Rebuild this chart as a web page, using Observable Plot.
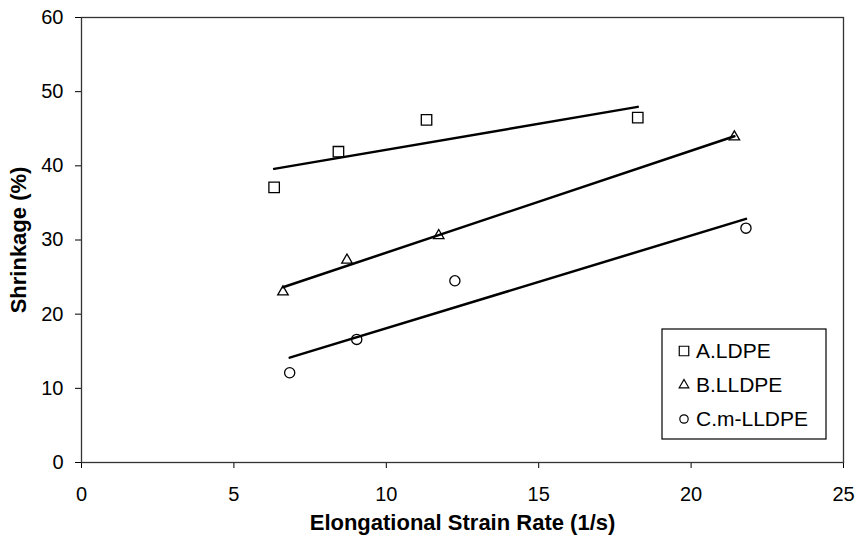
<!DOCTYPE html>
<html>
<head>
<meta charset="utf-8">
<script src="https://cdn.jsdelivr.net/npm/d3@7"></script>
<script src="https://cdn.jsdelivr.net/npm/@observablehq/plot@0.6"></script>
<style>
  body { margin: 0; background: #fff; }
  #chart { position: relative; width: 860px; height: 542px; font-family: "Liberation Sans", Arial, sans-serif; }
  #chart g[aria-label="x-axis label"] text,
  #chart g[aria-label="y-axis label"] text { font-weight: bold; font-size: 22px; }
  #legend { position: absolute; left: 661px; top: 328px; }
</style>
</head>
<body>
<div id="chart"></div>
<script>
// ---- data ----
const seriesNames = ["A.LDPE", "B.LLDPE", "C.m-LLDPE"];
const seriesSymbols = ["square", "triangle", "circle"];

const rateA = [6.32, 8.43, 11.32, 18.25];
const shrinkA = [37.1, 41.9, 46.2, 46.5];

const rateB = [6.61, 8.71, 11.72, 21.42];
const shrinkB = [23.0, 27.3, 30.6, 43.9];

const rateC = [6.83, 9.03, 12.25, 21.8];
const shrinkC = [12.1, 16.6, 24.5, 31.6];

const xTicks = [0, 5, 10, 15, 20, 25];
const yTicks = [0, 10, 20, 30, 40, 50, 60];

const xLabel = "Elongational Strain Rate (1/s)";
const yLabel = "Shrinkage (%)";

// ---- build table ----
const toRows = (xs, ys, name) => xs.map((x, i) => ({rate: x, shrink: ys[i], series: name}));
const seriesRows = [
  toRows(rateA, shrinkA, seriesNames[0]),
  toRows(rateB, shrinkB, seriesNames[1]),
  toRows(rateC, shrinkC, seriesNames[2])
];
const dotRadius = {square: 5.9, triangle: 3.9, circle: 5.1};

const chart = Plot.plot({
  width: 860,
  height: 542,
  marginLeft: 81,
  marginRight: 17,
  marginTop: 17,
  marginBottom: 80,
  style: {fontFamily: "Liberation Sans, Arial, sans-serif", fontSize: "20px", color: "#000", background: "#fff"},
  x: {domain: [0, 25], ticks: xTicks, tickSize: 6, tickPadding: 18, label: xLabel, labelAnchor: "center", labelOffset: 67, labelArrow: "none"},
  y: {domain: [0, 60], ticks: yTicks, tickSize: 6, tickPadding: 12, label: yLabel, labelAnchor: "center", labelOffset: 71, labelArrow: "none"},
  marks: [
    Plot.frame({stroke: "#333", strokeWidth: 1.3}),
    ...seriesRows.map(rows => Plot.linearRegressionY(rows, {x: "rate", y: "shrink", ci: 0, stroke: "#000", strokeWidth: 2.5})),
    ...seriesRows.map((rows, i) => Plot.dot(rows, {
      x: "rate", y: "shrink",
      symbol: () => seriesSymbols[i],
      r: dotRadius[seriesSymbols[i]],
      stroke: "#000", strokeWidth: 1.3, fill: "none"
    }))
  ]
});
// strip any direction arrows from the axis labels
chart.querySelectorAll('g[aria-label$="axis label"] text').forEach(t => {
  t.textContent = t.textContent.replace(/\s*[→←↑↓]\s*/g, "").trim();
});
document.getElementById("chart").appendChild(chart);

// ---- legend (inside plot area, lower right) ----
const legendSizes = {square: 90, triangle: 40, circle: 55};
const legend = d3.create("svg")
  .attr("id", "legend")
  .attr("width", 166)
  .attr("height", 112);
legend.append("rect")
  .attr("x", 1).attr("y", 1).attr("width", 164).attr("height", 110)
  .attr("fill", "#fff").attr("stroke", "#000").attr("stroke-width", 1.2);
const symFn = {square: d3.symbolSquare, triangle: d3.symbolTriangle, circle: d3.symbolCircle};
seriesNames.forEach((name, i) => {
  const cy = 23 + i * 34;
  const s = seriesSymbols[i];
  legend.append("path")
    .attr("transform", `translate(23,${cy})`)
    .attr("d", d3.symbol(symFn[s], legendSizes[s])())
    .attr("fill", "none").attr("stroke", "#000").attr("stroke-width", 1.2);
  legend.append("text")
    .attr("x", 35).attr("y", cy).attr("dy", "0.35em")
    .attr("font-family", "Liberation Sans, Arial, sans-serif")
    .attr("font-size", 21)
    .attr("fill", "#000")
    .text(name);
});
document.getElementById("chart").appendChild(legend.node());
</script>
</body>
</html>
